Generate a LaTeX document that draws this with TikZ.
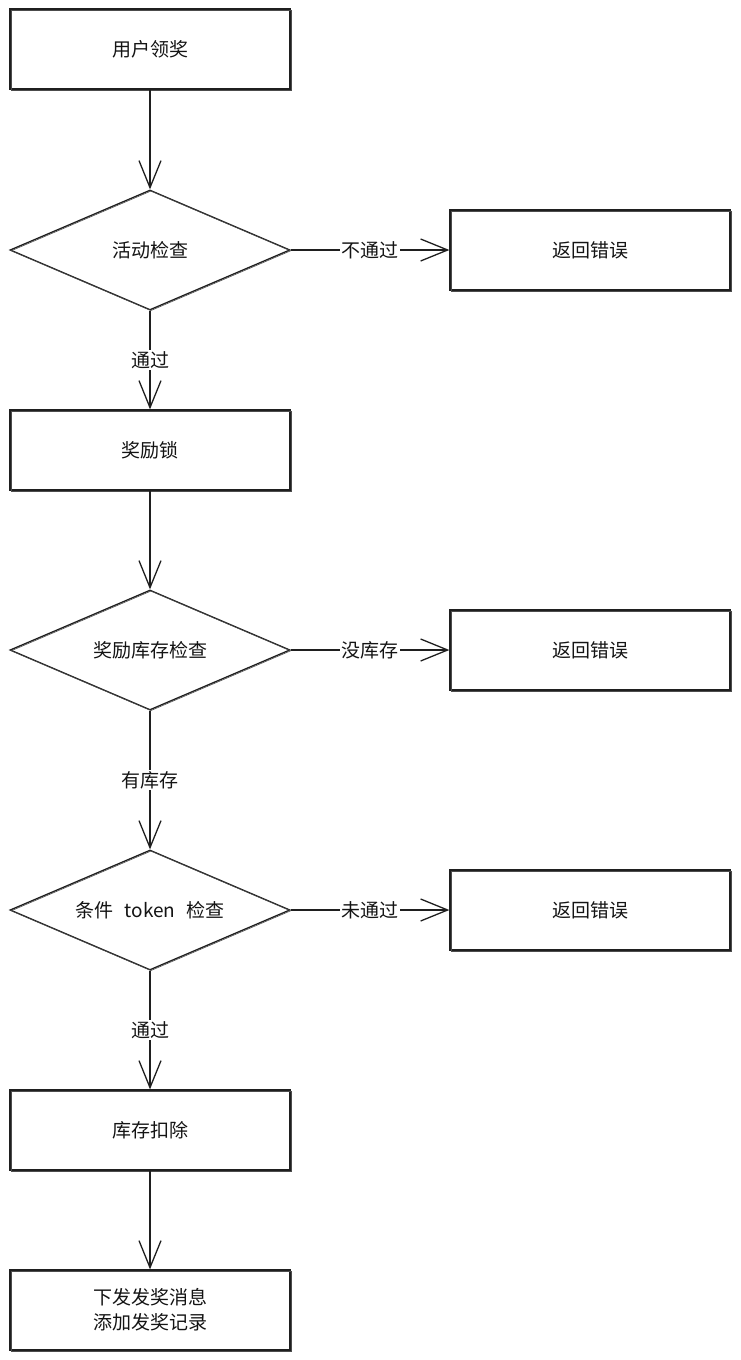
\documentclass[tikz,border=0pt]{standalone}
\usepackage{fontspec}
\setmainfont{Noto Sans CJK SC}
\usetikzlibrary{shapes.geometric,arrows.meta}
\begin{document}
\begin{tikzpicture}[x=1pt,y=-1pt,
  ink/.style={draw=black!88, line width=1.3pt,
    postaction={draw=black!70, line width=0.6pt,
      transform canvas={shift={(0.9pt,-0.8pt)}}}},
  txt/.style={font=\fontsize{19}{25}\selectfont, text=black!92},
  stepbox/.style={ink, txt, rectangle, minimum width=280pt, minimum height=80pt,
    inner sep=0pt, align=center},
  check/.style={ink, txt, diamond, aspect=2.333, minimum width=280pt,
    minimum height=120pt, inner sep=0pt},
  flow/.style={draw=black!88, line width=1.3pt,
    -{Straight Barb[length=27pt,width=22pt,line width=1.3pt]}},
  lbl/.style={txt, fill=white, inner sep=1.5pt}]
\useasboundingbox[fill=white] (0,0) rectangle (740,1360);

% main column
\node[stepbox] (start) at (150,49) {用户领奖};
\node[check]   (act)   at (150,250) {活动检查};
\node[stepbox] (lock)  at (150,450) {奖励锁};
\node[check]   (stock) at (150,650) {奖励库存检查};
\node[check]   (tok)   at (150,910) {条件\hspace{0.6em}token\hspace{0.6em}检查};
\node[stepbox] (deduct) at (150,1130) {库存扣除};
\node[stepbox] (send)  at (150,1310) {下发发奖消息\\添加发奖记录};

% error returns
\node[stepbox] (err1) at (590,250) {返回错误};
\node[stepbox] (err2) at (590,650) {返回错误};
\node[stepbox] (err3) at (590,910) {返回错误};

% connectors
\draw[flow] (start.south) -- (act.north);
\draw[flow] (act.south) -- node[lbl] {通过} (lock.north);
\draw[flow] (lock.south) -- (stock.north);
\draw[flow] (stock.south) -- node[lbl] {有库存} (tok.north);
\draw[flow] (tok.south) -- node[lbl] {通过} (deduct.north);
\draw[flow] (deduct.south) -- (send.north);

\draw[flow] (act.east) -- node[lbl] {不通过} (err1.west);
\draw[flow] (stock.east) -- node[lbl] {没库存} (err2.west);
\draw[flow] (tok.east) -- node[lbl] {未通过} (err3.west);
\end{tikzpicture}
\end{document}
